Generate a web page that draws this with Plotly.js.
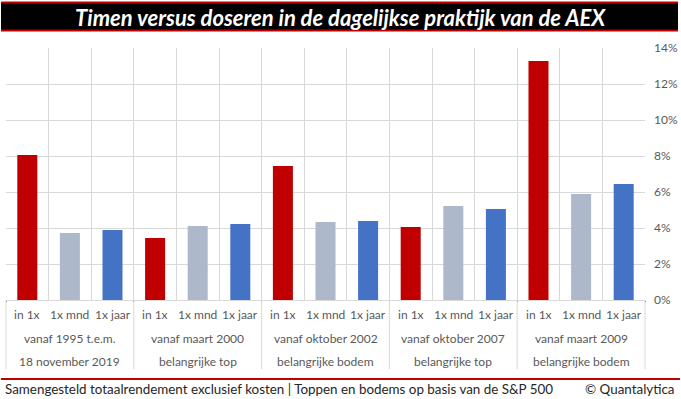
<!DOCTYPE html>
<html>
<head>
<meta charset="utf-8">
<script src="https://cdn.plot.ly/plotly-3.0.1.min.js"></script>
<style>html,body{margin:0;padding:0;background:#fff;}#chart{width:681px;height:399px;}</style>
</head>
<body>
<div id="chart"></div>
<script>
// Data
var groupLine1 = ["vanaf 1995 t.e.m.", "vanaf maart 2000", "vanaf oktober 2002", "vanaf oktober 2007", "vanaf maart 2009"];
var groupLine2 = ["18 november 2019", "belangrijke top", "belangrijke bodem", "belangrijke top", "belangrijke bodem"];
var subLabels = ["in 1x", "1x mnd", "1x jaar"];
var inOnce  = [8.05, 3.44, 7.44, 4.06, 13.28];
var monthly = [3.72, 4.11, 4.33, 5.22, 5.89];
var yearly  = [3.89, 4.22, 4.39, 5.06, 6.44];
var yTicks = [0, 2, 4, 6, 8, 10, 12, 14];

var seriesValues = [inOnce, monthly, yearly];
var seriesColors = ["#C00000", "#ADB9CA", "#4472C4"];

var traces = subLabels.map(function (lab, s) {
  return {
    type: "bar",
    name: lab,
    x: [groupLine1, groupLine1.map(function () { return lab; })],
    y: seriesValues[s],
    marker: { color: seriesColors[s] },
    width: 0.47,
    hoverinfo: "y"
  };
});

// pixel -> paper helpers (plot area 6..645 x, 48..300 y)
var L = 6, R = 645, T = 48, B = 300;
function px(x) { return (x - L) / (R - L); }
function py(y) { return (B - y) / (B - T); }

var nSub = subLabels.length;
var nCat = groupLine1.length * nSub;
var shapes = [
  { type: "rect", xref: "paper", yref: "paper", x0: px(1), x1: px(678), y0: py(31), y1: py(2), fillcolor: "#000", line: { width: 0 }, layer: "below" },
  { type: "line", xref: "paper", yref: "paper", x0: px(1), x1: px(678), y0: py(2.5), y1: py(2.5), line: { color: "#C00000", width: 2 } },
  { type: "line", xref: "paper", yref: "paper", x0: px(1), x1: px(678), y0: py(30.5), y1: py(30.5), line: { color: "#C00000", width: 2 } },
  { type: "line", xref: "paper", yref: "paper", x0: px(1), x1: px(680), y0: py(379), y1: py(379), line: { color: "#C00000", width: 2 } }
];
for (var g = 0; g <= groupLine1.length; g++) {
  shapes.push({ type: "line", xref: "paper", yref: "paper", x0: g * nSub / nCat, x1: g * nSub / nCat, y0: 0, y1: py(369), line: { color: "#D9D9D9", width: 1 } });
}

var labFont = { family: "Lato, sans-serif", size: 12, color: "#595959" };
var annotations = [
  { xref: "paper", yref: "paper", x: px(340), y: py(17), text: "<b><i>Timen versus doseren in de dagelijkse praktijk van de AEX</i></b>", showarrow: false, font: { family: "Lato, sans-serif", size: 22, color: "#fff" }, xanchor: "center", yanchor: "middle" },
  { xref: "paper", yref: "paper", x: px(3), y: py(389), text: "Samengesteld totaalrendement exclusief kosten | Toppen en bodems op basis van de S&P 500", showarrow: false, font: { family: "Lato, sans-serif", size: 13.4, color: "#262626" }, xanchor: "left", yanchor: "middle" },
  { xref: "paper", yref: "paper", x: px(677), y: py(389), text: "© Quantalytica", showarrow: false, font: { family: "Lato, sans-serif", size: 13.4, color: "#262626" }, xanchor: "right", yanchor: "middle" }
];
groupLine1.forEach(function (t, i) {
  subLabels.forEach(function (s, j) {
    annotations.push({ xref: "paper", yref: "paper", x: (i * nSub + j + 0.5) / nCat, y: py(314), text: s, showarrow: false, font: labFont, xanchor: "center", yanchor: "middle" });
  });
  annotations.push({ xref: "paper", yref: "paper", x: (i * nSub + nSub / 2) / nCat, y: py(338), text: t, showarrow: false, font: labFont, xanchor: "center", yanchor: "middle" });
  annotations.push({ xref: "paper", yref: "paper", x: (i * nSub + nSub / 2) / nCat, y: py(361), text: groupLine2[i], showarrow: false, font: labFont, xanchor: "center", yanchor: "middle" });
});

var layout = {
  width: 681, height: 399,
  margin: { l: L, r: 681 - R, t: T, b: 399 - B, pad: 0 },
  paper_bgcolor: "#fff", plot_bgcolor: "#fff",
  showlegend: false,
  barmode: "overlay",
  font: { family: "Lato, sans-serif", size: 12, color: "#595959" },
  xaxis: {
    type: "multicategory",
    showticklabels: false,
    showgrid: true, gridcolor: "#D9D9D9", gridwidth: 1,
    tickson: "boundaries",
    ticks: "", showline: true, linecolor: "#D9D9D9"
  },
  yaxis: {
    side: "right", range: [0, 14], tickvals: yTicks, ticktext: yTicks.map(function (v) { return v + "%"; }),
    showgrid: true, gridcolor: "#D9D9D9", gridwidth: 1, zeroline: false,
    ticks: "", ticklabelstandoff: 8,
    tickfont: labFont
  },
  shapes: shapes,
  annotations: annotations
};

Plotly.newPlot("chart", traces, layout, { displayModeBar: false, staticPlot: true });
</script>
</body>
</html>
